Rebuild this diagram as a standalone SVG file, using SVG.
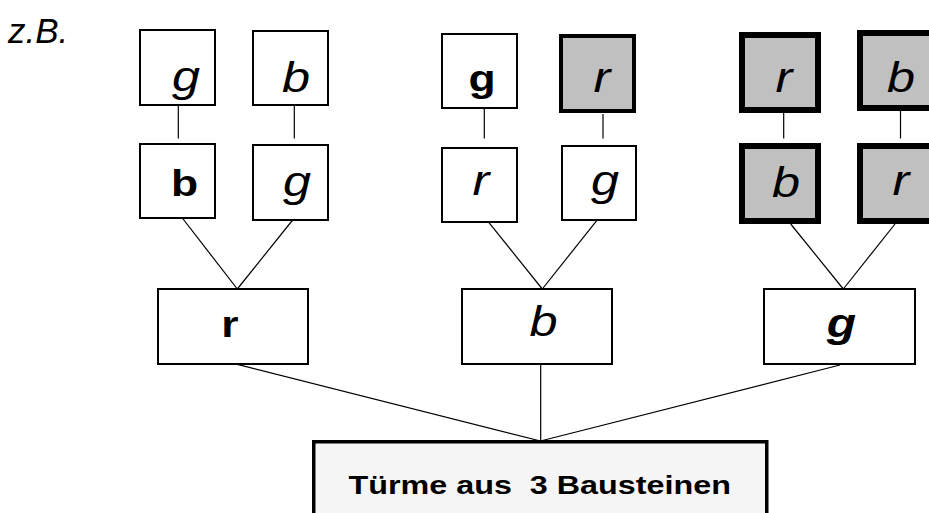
<svg xmlns="http://www.w3.org/2000/svg" width="929" height="513" viewBox="0 0 929 513">
  <style>
    .box { fill: #ffffff; stroke: #000000; stroke-width: 2; }
    .hold { fill: #c0c0c0; stroke: #000000; stroke-width: 4; }
    .heavy { fill: #c0c0c0; stroke: #000000; stroke-width: 6; }
    .base { fill: #f5f5f5; stroke: #000000; stroke-width: 3.5; }
    .edge { stroke: #000000; stroke-width: 1.2; fill: none; }
    text { font-family: "Liberation Sans", Arial, sans-serif; fill: #000000; text-anchor: middle; }
    .it { font-style: italic; font-size: 42px; }
    .bd { font-weight: bold; font-size: 37px; }
    .bi { font-weight: bold; font-style: italic; font-size: 40px; }
  </style>

  <text x="8" y="43" style="font-style:italic;font-size:35px;text-anchor:start">z.B.</text>

  <!-- connectors -->
  <g id="connectors" class="edge">
    <line x1="178.3" y1="100" x2="178.3" y2="138.5"/>
    <line x1="294.3" y1="100" x2="294.3" y2="138.5"/>
    <line x1="180" y1="215" x2="237.3" y2="289"/>
    <line x1="296.7" y1="215" x2="237.3" y2="289"/>

    <line x1="484.3" y1="100" x2="484.3" y2="138.5"/>
    <line x1="603" y1="114" x2="603" y2="138.5"/>
    <line x1="482.3" y1="214.3" x2="542.3" y2="289"/>
    <line x1="601.7" y1="214.3" x2="542.3" y2="289"/>

    <line x1="783.7" y1="113" x2="783.7" y2="138.5"/>
    <line x1="900.5" y1="111" x2="900.5" y2="138.5"/>
    <line x1="790.7" y1="224" x2="843.3" y2="289"/>
    <line x1="895" y1="224" x2="843.3" y2="289"/>

    <line x1="237.3" y1="364.3" x2="540.5" y2="441"/>
    <line x1="540.7" y1="364.3" x2="540.7" y2="441"/>
    <line x1="840" y1="365" x2="540.5" y2="441"/>
  </g>

  <!-- tower on r: b over r, g over r -->
  <g id="l-top-g"><rect class="box" x="140" y="30" width="75" height="75"/><text class="it" transform="translate(186 91) scale(1.2 1)">g</text></g>
  <g id="l-top-b"><rect class="box" x="253" y="31" width="75" height="74"/><text class="it" transform="translate(296 91.5) scale(1.2 1)">b</text></g>
  <g id="l-mid-b"><rect class="box" x="140" y="144" width="75" height="74"/><text class="bd" transform="translate(184.5 196) scale(1.2 1)">b</text></g>
  <g id="l-mid-g"><rect class="box" x="253" y="145" width="75" height="75"/><text class="it" transform="translate(297 196) scale(1.2 1)">g</text></g>

  <!-- tower on b -->
  <g id="m-top-g"><rect class="box" x="442" y="34" width="75" height="74"/><text class="bd" transform="translate(482 91) scale(1.2 1)">g</text></g>
  <g id="m-top-r"><rect class="hold" x="561" y="36" width="73" height="75"/><text class="it" transform="translate(602 91.7) scale(1.2 1)">r</text></g>
  <g id="m-mid-r"><rect class="box" x="442" y="148" width="75" height="74"/><text class="it" transform="translate(481 195) scale(1.2 1)">r</text></g>
  <g id="m-mid-g"><rect class="box" x="562" y="146" width="74" height="74"/><text class="it" transform="translate(605 195) scale(1.2 1)">g</text></g>

  <!-- tower on g -->
  <g id="r-top-r"><rect class="heavy" x="742" y="35" width="76" height="75"/><text class="it" transform="translate(784 91.7) scale(1.2 1)">r</text></g>
  <g id="r-top-b"><rect class="heavy" x="860" y="33" width="76" height="75"/><text class="it" transform="translate(901 91.7) scale(1.2 1)">b</text></g>
  <g id="r-mid-b"><rect class="heavy" x="742" y="146" width="76" height="75"/><text class="it" transform="translate(786 196.7) scale(1.2 1)">b</text></g>
  <g id="r-mid-r"><rect class="heavy" x="860" y="146" width="76" height="75"/><text class="it" transform="translate(901 195) scale(1.2 1)">r</text></g>

  <!-- base blocks -->
  <g id="base-r"><rect class="box" x="158" y="289" width="150" height="75"/><text class="bd" transform="translate(230 336.7) scale(1.2 1)">r</text></g>
  <g id="base-b"><rect class="box" x="462" y="289" width="150" height="75"/><text class="it" transform="translate(543.5 336) scale(1.2 1)">b</text></g>
  <g id="base-g"><rect class="box" x="764" y="289" width="151" height="75"/><text class="bi" transform="translate(841.5 336.7) scale(1.2 1)">g</text></g>

  <!-- root -->
  <g id="root">
    <rect class="base" x="313.75" y="441.75" width="453" height="100"/>
    <text transform="translate(539.7 494) scale(1.22 1)" xml:space="preserve" style="font-weight:bold;font-size:26.5px">Türme aus  3 Bausteinen</text>
  </g>
</svg>
